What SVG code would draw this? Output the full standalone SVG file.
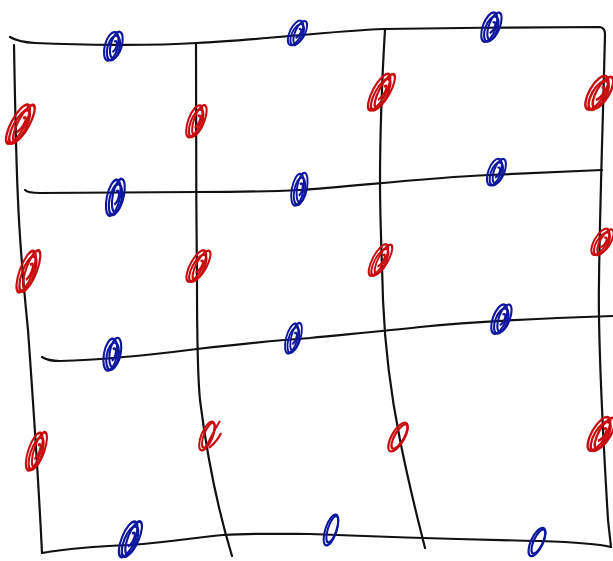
<svg xmlns="http://www.w3.org/2000/svg" xmlns:xlink="http://www.w3.org/1999/xlink" width="613" height="561" viewBox="0 0 613 561">
<style>
.ln{fill:none;stroke:#111;stroke-width:2.2;stroke-linecap:round;stroke-linejoin:round}
.b{fill:none;stroke:#0d179e;stroke-width:2.1}
.r{fill:none;stroke:#c80d10;stroke-width:2.1}
</style>
<defs>
<g id="s">
<ellipse cx="-2.5" cy="1" rx="6.5" ry="14"/>
<ellipse cx="2" cy="-1.5" rx="5.5" ry="13"/>
<ellipse cx="0" cy="2" rx="6" ry="12"/>
<path d="M-1,-4 C3,-8 4,2 0,6"/>
</g>
<g id="s2">
<ellipse cx="0" cy="0" rx="6" ry="14"/>
<ellipse cx="1" cy="-1" rx="4.5" ry="12"/>
</g>
</defs>
<rect width="613" height="561" fill="#fff"/>
<g id="connectors">
<path class="ln" d="M10,37 Q18,42 35,43 C80,45 150,46 197,43 C260,40 330,31 384,29 C450,28 540,27 600,27 Q605,28 605,34"/>
<path class="ln" d="M605,34 C603,120 600,200 599,280 C598,330 602,420 608,520 L611,547"/>
<path class="ln" d="M42,553 C60,550 80,547 130,545 C170,542 200,537 223,535 C260,533 290,534 310,534 C360,536 450,539 540,541 C570,542 595,543 611,547"/>
<path class="ln" d="M14,45 C15,100 16,160 18,200 C20,250 24,290 28,330 C33,400 38,470 42,553"/>
<path class="ln" d="M25,190 Q28,193 40,193 C100,193 160,192 197,192 C250,192 280,191 300,190 C350,187 420,178 490,175 C540,173 580,171 602,170"/>
<path class="ln" d="M42,357 Q48,361 60,361 C100,360 150,355 197,349 C240,344 280,340 310,338 C350,334 385,331 420,327 C470,322 550,318 613,316"/>
<path class="ln" d="M196,43 C196,100 196,200 197,280 C197,320 197,370 200,400 C205,440 215,500 232,556"/>
<path class="ln" d="M385,29 C382,80 380,150 380,183 C380,220 382,260 383,300 C385,350 392,400 400,440 C410,490 418,520 425,548"/>
</g>
<g id="blue-1-1"><use xlink:href="#s" class="b" transform="translate(114,46) rotate(15) scale(1.0,1.05)"/></g>
<g id="blue-1-2"><use xlink:href="#s" class="b" transform="translate(298,33) rotate(25) scale(0.9,0.95)"/></g>
<g id="blue-1-3"><use xlink:href="#s" class="b" transform="translate(492,27) rotate(20) scale(1.0,1.1)"/></g>
<g id="blue-2-1"><use xlink:href="#s" class="b" transform="translate(116,197) rotate(12) scale(1.0,1.3)"/></g>
<g id="blue-2-2"><use xlink:href="#s" class="b" transform="translate(300,189) rotate(10) scale(0.9,1.15)"/></g>
<g id="blue-2-3"><use xlink:href="#s" class="b" transform="translate(497,172) rotate(20) scale(0.95,1.0)"/></g>
<g id="blue-3-1"><use xlink:href="#s" class="b" transform="translate(113,354) rotate(10) scale(1.0,1.15)"/></g>
<g id="blue-3-2"><use xlink:href="#s" class="b" transform="translate(294,338) rotate(15) scale(0.85,1.1)"/></g>
<g id="blue-3-3"><use xlink:href="#s" class="b" transform="translate(502,319) rotate(20) scale(1.0,1.1)"/></g>
<g id="blue-4-1"><use xlink:href="#s" class="b" transform="translate(131,539) rotate(22) scale(1.0,1.35)"/></g>
<g id="blue-4-2"><use xlink:href="#s2" class="b" transform="translate(331,530) rotate(18) scale(0.95,1.15)"/></g>
<g id="blue-4-3"><use xlink:href="#s2" class="b" transform="translate(537,542) rotate(25) scale(1.0,1.1)"/></g>
<g id="red-1-1"><use xlink:href="#s" class="r" transform="translate(21,124) rotate(28) scale(1.05,1.55)"/></g>
<g id="red-1-2"><use xlink:href="#s" class="r" transform="translate(197,121) rotate(20) scale(0.95,1.2)"/></g>
<g id="red-1-3"><use xlink:href="#s" class="r" transform="translate(382,92) rotate(28) scale(1.0,1.45)"/></g>
<g id="red-1-4"><use xlink:href="#s" class="r" transform="translate(600,93) rotate(30) scale(1.15,1.35)"/></g>
<g id="red-2-1"><use xlink:href="#s" class="r" transform="translate(29,271) rotate(20) scale(1.0,1.55)"/></g>
<g id="red-2-2"><use xlink:href="#s" class="r" transform="translate(199,266) rotate(28) scale(0.95,1.25)"/></g>
<g id="red-2-3"><use xlink:href="#s" class="r" transform="translate(381,260) rotate(28) scale(0.9,1.25)"/></g>
<g id="red-2-4"><use xlink:href="#s" class="r" transform="translate(603,242) rotate(30) scale(0.95,1.05)"/></g>
<g id="red-3-1"><use xlink:href="#s" class="r" transform="translate(37,451) rotate(18) scale(0.95,1.4)"/></g>
<g id="red-3-2"><use xlink:href="#s2" class="r" transform="translate(207,436) rotate(22) scale(0.95,1.1)"/><path class="r" d="M205,449 C210,440 214,430 220,421 M209,448 C215,443 219,438 221,433"/></g>
<g id="red-3-3"><use xlink:href="#s2" class="r" transform="translate(398,437) rotate(30) scale(1.05,1.15)"/></g>
<g id="red-3-4"><use xlink:href="#s" class="r" transform="translate(602,434) rotate(30) scale(1.1,1.35)"/></g>
</svg>
